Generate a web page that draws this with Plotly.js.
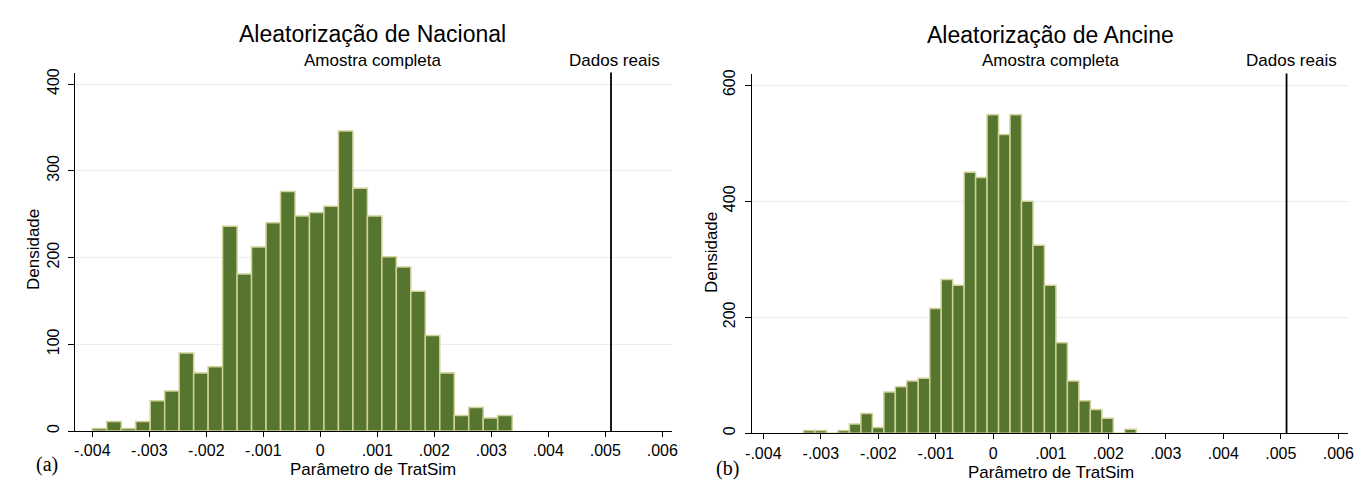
<!DOCTYPE html>
<html>
<head>
<meta charset="utf-8">
<script src="https://cdn.plot.ly/plotly-3.0.1.min.js"></script>
<style>html,body{margin:0;padding:0;background:#fff;}#chart{width:1368px;height:493px;}</style>
</head>
<body>
<div id="chart"></div>
<script>
// ---- Data ----
const natTitle = "Aleatorização de Nacional";
const ancTitle = "Aleatorização de Ancine";
const subTitle = "Amostra completa";
const lineLabel = "Dados reais";
const xTitle = "Parâmetro de TratSim";
const yTitle = "Densidade";
const panelLabels = ["(a)", "(b)"];

// Nacional histogram: bins start and width, densities per bin
const natBinStart = -0.004;
const natBinWidth = 0.000254;
const natValues = [3, 11, 3, 11, 35, 46, 90, 67, 74, 236, 181, 212, 240, 276, 248, 252, 259, 346, 280, 248, 201, 189, 161, 110, 67, 18, 27, 15, 18];

// Ancine histogram
const ancBinStart = -0.0033;
const ancBinWidth = 0.0001995;
const ancValues = [5, 5, 0, 5, 16, 34, 10, 71, 80, 90, 95, 215, 265, 255, 450, 441, 549, 515, 549, 400, 324, 255, 156, 90, 56, 41, 26, 0, 7];

// Real-data value (vertical line)
const realValue = [0.0051, 0.0051];

// Ticks
const xTickVals = [-0.004, -0.003, -0.002, -0.001, 0, 0.001, 0.002, 0.003, 0.004, 0.005, 0.006];
const xTickText = ["-.004", "-.003", "-.002", "-.001", "0", ".001", ".002", ".003", ".004", ".005", ".006"];
const natYTicks = [0, 100, 200, 300, 400];
const ancYTicks = [0, 200, 400, 600];

// ---- Build ----
const W = 1368, H = 493;
const px = x => x / W;
const py = y => 1 - y / H;

const natCenters = natValues.map((_, i) => natBinStart + (i + 0.5) * natBinWidth);
const ancCenters = ancValues.map((_, i) => ancBinStart + (i + 0.5) * ancBinWidth);

const fillColor = '#56752e';
const edgeColor = '#cfd199';
const FONT = 'Liberation Sans, Arial, sans-serif';

const traces = [
  {type: 'bar', x: natCenters, y: natValues, width: natBinWidth, xaxis: 'x', yaxis: 'y',
   marker: {color: fillColor, line: {color: edgeColor, width: 1.5}}, hoverinfo: 'x+y'},
  {type: 'bar', x: ancCenters, y: ancValues, width: ancBinWidth, xaxis: 'x2', yaxis: 'y2',
   marker: {color: fillColor, line: {color: edgeColor, width: 1.5}}, hoverinfo: 'x+y'}
];

function xAxis(domain, range, anchor) {
  return {
    domain: domain, range: range, anchor: anchor,
    tickmode: 'array', tickvals: xTickVals, ticktext: xTickText,
    ticks: 'outside', ticklen: 5, tickwidth: 1, tickcolor: '#000',
    showline: true, linecolor: '#000', linewidth: 1,
    showgrid: false, zeroline: false,
    tickfont: {family: FONT, size: 16, color: '#000'}
  };
}
function yAxis(domain, range, anchor, ticks) {
  return {
    domain: domain, range: range, anchor: anchor,
    tickmode: 'array', tickvals: ticks, ticktext: ticks.map(String),
    tickangle: -90, ticklabelstandoff: 3,
    ticks: 'outside', ticklen: 6, tickwidth: 1, tickcolor: '#000',
    showline: true, linecolor: '#000', linewidth: 1,
    showgrid: true, gridcolor: '#e9edf0', gridwidth: 1, zeroline: false,
    tickfont: {family: FONT, size: 16, color: '#000'}
  };
}

const layout = {
  width: W, height: H,
  margin: {l: 0, r: 0, t: 0, b: 0},
  paper_bgcolor: '#fff', plot_bgcolor: '#fff',
  showlegend: false, bargap: 0,
  xaxis: xAxis([px(75), px(672)], [-0.0043035, 0.00617], 'y'),
  yaxis: yAxis([py(431), py(72.5)], [0, 413.3], 'x', natYTicks),
  xaxis2: xAxis([px(751.7), px(1348.3)], [-0.004202, 0.006174], 'y2'),
  yaxis2: yAxis([py(433.3), py(73.5)], [0, 620], 'x2', ancYTicks),
  shapes: [
    {type: 'line', xref: 'x', yref: 'y domain', x0: realValue[0], x1: realValue[0], y0: 0, y1: 1,
     line: {color: '#000', width: 1.8}},
    {type: 'line', xref: 'x2', yref: 'y2 domain', x0: realValue[1], x1: realValue[1], y0: 0, y1: 1,
     line: {color: '#000', width: 1.8}}
  ],
  annotations: [
    {text: natTitle, xref: 'paper', yref: 'paper', x: px(373), y: py(34), showarrow: false,
     font: {family: FONT, size: 23, color: '#000'}, xanchor: 'center', yanchor: 'middle'},
    {text: ancTitle, xref: 'paper', yref: 'paper', x: px(1050), y: py(35), showarrow: false,
     font: {family: FONT, size: 23, color: '#000'}, xanchor: 'center', yanchor: 'middle'},
    {text: subTitle, xref: 'paper', yref: 'paper', x: px(372.5), y: py(60.5), showarrow: false,
     font: {family: FONT, size: 17, color: '#000'}, xanchor: 'center', yanchor: 'middle'},
    {text: subTitle, xref: 'paper', yref: 'paper', x: px(1051), y: py(60.5), showarrow: false,
     font: {family: FONT, size: 17, color: '#000'}, xanchor: 'center', yanchor: 'middle'},
    {text: lineLabel, xref: 'x', yref: 'paper', x: realValue[0], y: py(60.5), xshift: 3, showarrow: false,
     font: {family: FONT, size: 17, color: '#000'}, xanchor: 'center', yanchor: 'middle'},
    {text: lineLabel, xref: 'x2', yref: 'paper', x: realValue[1], y: py(60.5), xshift: 5, showarrow: false,
     font: {family: FONT, size: 17, color: '#000'}, xanchor: 'center', yanchor: 'middle'},
    {text: xTitle, xref: 'paper', yref: 'paper', x: px(373), y: py(469.5), showarrow: false,
     font: {family: FONT, size: 17, color: '#000'}, xanchor: 'center', yanchor: 'middle'},
    {text: xTitle, xref: 'paper', yref: 'paper', x: px(1051), y: py(472), showarrow: false,
     font: {family: FONT, size: 17, color: '#000'}, xanchor: 'center', yanchor: 'middle'},
    {text: yTitle, xref: 'paper', yref: 'paper', x: px(33), y: py(250), textangle: -90, showarrow: false,
     font: {family: FONT, size: 17, color: '#000'}, xanchor: 'center', yanchor: 'middle'},
    {text: yTitle, xref: 'paper', yref: 'paper', x: px(711), y: py(253), textangle: -90, showarrow: false,
     font: {family: FONT, size: 17, color: '#000'}, xanchor: 'center', yanchor: 'middle'},
    {text: panelLabels[0], xref: 'paper', yref: 'paper', x: px(47), y: py(464), showarrow: false,
     font: {family: 'Liberation Serif, Times New Roman, serif', size: 20, color: '#000'}, xanchor: 'center', yanchor: 'middle'},
    {text: panelLabels[1], xref: 'paper', yref: 'paper', x: px(727.5), y: py(468), showarrow: false,
     font: {family: 'Liberation Serif, Times New Roman, serif', size: 20, color: '#000'}, xanchor: 'center', yanchor: 'middle'}
  ]
};

Plotly.newPlot('chart', traces, layout, {displayModeBar: false, staticPlot: true});
</script>
</body>
</html>
